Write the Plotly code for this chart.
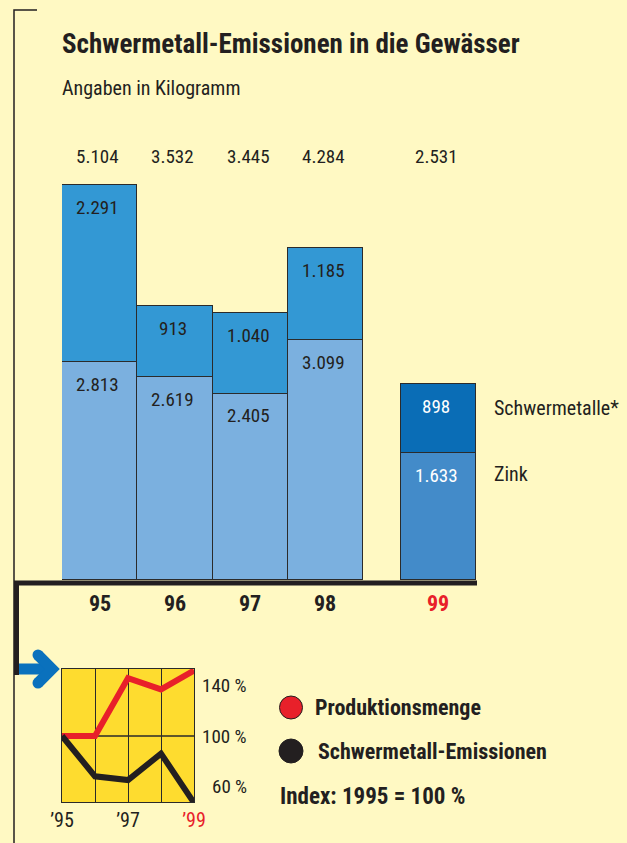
import plotly.graph_objects as go

# ---------------- data ----------------
years = ["95", "96", "97", "98", "99"]
zink = [2813, 2619, 2405, 3099, 1633]
schwermetalle = [2291, 913, 1040, 1185, 898]

inset_years = [1995, 1996, 1997, 1998, 1999]
inset_ticks = ["’95", "", "’97", "", "<span style='color:#e8202a'>’99</span>"]
produktion = [100, 100, 146, 137, 152]
emissionen = [100, 68, 65, 86, 47]
pct_ticks = [140, 100, 60]

# ---------------- style ----------------
W, H = 627, 843
BG = "#fff9c3"
INK = "#231f20"
RED = "#e8202a"
BLUE_ARROW = "#0a71bd"
YELLOW = "#fedc2f"
COND = "Roboto Condensed, Liberation Sans Narrow, DejaVu Sans Condensed, sans-serif"

def X(px):
    return px / W

def Y(py):
    return 1 - py / H

def de(v):
    return f"{v:,}".replace(",", ".")

xpos = [0, 1, 2, 3, 4.5]
totals = [a + b for a, b in zip(zink, schwermetalle)]
zink_colors = ["#7bb0df"] * 4 + ["#438bc9"]
top_colors = ["#3398d4"] * 4 + ["#0a6db6"]
label_colors = [INK] * 4 + ["white"]

fig = go.Figure()
fig.add_trace(go.Bar(x=xpos, y=zink, width=1.0, name="Zink",
                     marker=dict(color=zink_colors, line=dict(color="#2b2b2b", width=1.5)),
                     hoverinfo="skip"))
fig.add_trace(go.Bar(x=xpos, y=schwermetalle, width=1.0, name="Schwermetalle*",
                     marker=dict(color=top_colors, line=dict(color="#2b2b2b", width=1.5)),
                     hoverinfo="skip"))

fig.add_trace(go.Scatter(x=inset_years, y=produktion, mode="lines", xaxis="x2", yaxis="y2",
                         line=dict(color=RED, width=6), cliponaxis=False, hoverinfo="skip"))
fig.add_trace(go.Scatter(x=inset_years, y=emissionen, mode="lines", xaxis="x2", yaxis="y2",
                         line=dict(color=INK, width=6), cliponaxis=False, hoverinfo="skip"))

ann = []
ann.append(dict(text="<b>Schwermetall-Emissionen in die Gewässer</b>", x=X(60), y=Y(44),
                xref="paper", yref="paper", xanchor="left", yanchor="middle", showarrow=False,
                font=dict(family=COND, size=27, color=INK)))
ann.append(dict(text="Angaben in Kilogramm", x=X(60), y=Y(88),
                xref="paper", yref="paper", xanchor="left", yanchor="middle", showarrow=False,
                font=dict(family=COND, size=20, color=INK)))

for i, x in enumerate(xpos):
    ann.append(dict(text=de(totals[i]), x=x, y=Y(157), xref="x", yref="paper",
                    xanchor="center", yanchor="middle", showarrow=False, xshift=-2,
                    font=dict(family=COND, size=19, color=INK)))
    ann.append(dict(text=f"<b>{years[i]}</b>", x=x, y=Y(603), xref="x", yref="paper",
                    xanchor="center", yanchor="middle", showarrow=False,
                    font=dict(family=COND, size=22, color=RED if i == 4 else INK)))
    ann.append(dict(text=de(zink[i]), x=x, y=zink[i], xref="x", yref="y",
                    xanchor="center", yanchor="middle", showarrow=False, yshift=-22, xshift=-2,
                    font=dict(family=COND, size=19, color=label_colors[i])))
    ann.append(dict(text=de(schwermetalle[i]), x=x, y=totals[i], xref="x", yref="y",
                    xanchor="center", yanchor="middle", showarrow=False, yshift=-22, xshift=-2,
                    font=dict(family=COND, size=19, color=label_colors[i])))

ann.append(dict(text="Schwermetalle*", x=xpos[4] + 0.5, y=totals[4], xref="x", yref="y",
                xanchor="left", yanchor="middle", showarrow=False, xshift=16, yshift=-24,
                font=dict(family=COND, size=20, color=INK)))
ann.append(dict(text="Zink", x=xpos[4] + 0.5, y=zink[4], xref="x", yref="y",
                xanchor="left", yanchor="middle", showarrow=False, xshift=16, yshift=-20,
                font=dict(family=COND, size=20, color=INK)))

for v in pct_ticks:
    ann.append(dict(text=f"{v} %", x=1, y=v, xref="x2 domain", yref="y2",
                    xanchor="right", yanchor="middle", showarrow=False, xshift=55,
                    font=dict(family=COND, size=19, color=INK)))

ann.append(dict(text="<b>Produktionsmenge</b>", x=X(313), y=Y(707), xref="paper", yref="paper",
                xanchor="left", yanchor="middle", showarrow=False,
                font=dict(family=COND, size=22, color=INK)))
ann.append(dict(text="<b>Schwermetall-Emissionen</b>", x=X(316), y=Y(751), xref="paper", yref="paper",
                xanchor="left", yanchor="middle", showarrow=False,
                font=dict(family=COND, size=22, color=INK)))
ann.append(dict(text="<b>Index: 1995 = 100 %</b>", x=X(278), y=Y(796), xref="paper", yref="paper",
                xanchor="left", yanchor="middle", showarrow=False,
                font=dict(family=COND, size=23, color=INK)))

shapes = []
shapes.append(dict(type="path", xref="paper", yref="paper",
                   path=f"M {X(37)} {Y(10)} L {X(14)} {Y(10)} L {X(14)} {Y(843)}",
                   line=dict(color=INK, width=1.5)))
shapes.append(dict(type="path", xref="paper", yref="paper",
                   path=f"M {X(477)} {Y(583)} L {X(16.5)} {Y(583)} L {X(16.5)} {Y(675)}",
                   line=dict(color=INK, width=5)))
shapes.append(dict(type="path", xref="paper", yref="paper",
                   path=f"M {X(19)} {Y(669)} L {X(52)} {Y(669)}",
                   line=dict(color=BLUE_ARROW, width=11)))
shapes.append(dict(type="path", xref="paper", yref="paper",
                   path=f"M {X(38)} {Y(655)} L {X(52)} {Y(669)} L {X(38)} {Y(683)}",
                   line=dict(color=BLUE_ARROW, width=11)))
for cy in (655, 683):
    shapes.append(dict(type="circle", xref="paper", yref="paper",
                       x0=X(38 - 5.5), x1=X(38 + 5.5), y0=Y(cy + 5.5), y1=Y(cy - 5.5),
                       fillcolor=BLUE_ARROW, line=dict(width=0)))
shapes.append(dict(type="rect", xref="x2 domain", yref="y2 domain", x0=0, x1=1, y0=0, y1=1,
                   fillcolor=YELLOW, line=dict(width=0), layer="below"))
shapes.append(dict(type="line", xref="x2 domain", yref="y2", x0=0, x1=1, y0=100, y1=100,
                   line=dict(color="#2a2a2a", width=1.3), layer="below"))
shapes.append(dict(type="circle", xref="paper", yref="paper",
                   x0=X(279.5), x1=X(302.5), y0=Y(719), y1=Y(696),
                   fillcolor=RED, line=dict(color=INK, width=1)))
shapes.append(dict(type="circle", xref="paper", yref="paper",
                   x0=X(279), x1=X(303), y0=Y(763), y1=Y(739),
                   fillcolor=INK, line=dict(color=INK, width=1)))

px_per_unit = (580 - 185) / 5104
ymax = 5500
top_px = 580 - ymax * px_per_unit

fig.update_layout(
    template="none",
    width=W, height=H, autosize=False,
    margin=dict(l=0, r=0, t=0, b=0, pad=0, autoexpand=False),
    paper_bgcolor=BG, plot_bgcolor="rgba(0,0,0,0)",
    barmode="stack", bargap=0, showlegend=False,
    xaxis=dict(domain=[X(62), X(476)], range=[-0.5, 5.0], visible=False, fixedrange=True,
               automargin=False),
    yaxis=dict(domain=[Y(580), Y(top_px)], range=[0, ymax], visible=False, fixedrange=True,
               automargin=False),
    xaxis2=dict(domain=[X(62), X(194)], range=[1995, 1999], anchor="y2",
                tickvals=inset_years, ticktext=inset_ticks, ticks="",
                tickfont=dict(family=COND, size=20, color=INK),
                showgrid=True, gridcolor="#2a2a2a", gridwidth=1.3,
                showline=True, linecolor="#2a2a2a", linewidth=1.3, mirror=True,
                zeroline=False, fixedrange=True, automargin=False),
    yaxis2=dict(domain=[Y(802), Y(669)], range=[47.6, 153.2], anchor="x2",
                showgrid=False, showticklabels=False, ticks="",
                showline=True, linecolor="#2a2a2a", linewidth=1.3, mirror=True,
                zeroline=False, fixedrange=True, automargin=False),
    annotations=ann, shapes=shapes,
)

post = ("document.body.style.margin='0';document.body.style.overflow='hidden';")
fig.write_html("out.html", config={"displayModeBar": False, "responsive": False}, post_script=post)
